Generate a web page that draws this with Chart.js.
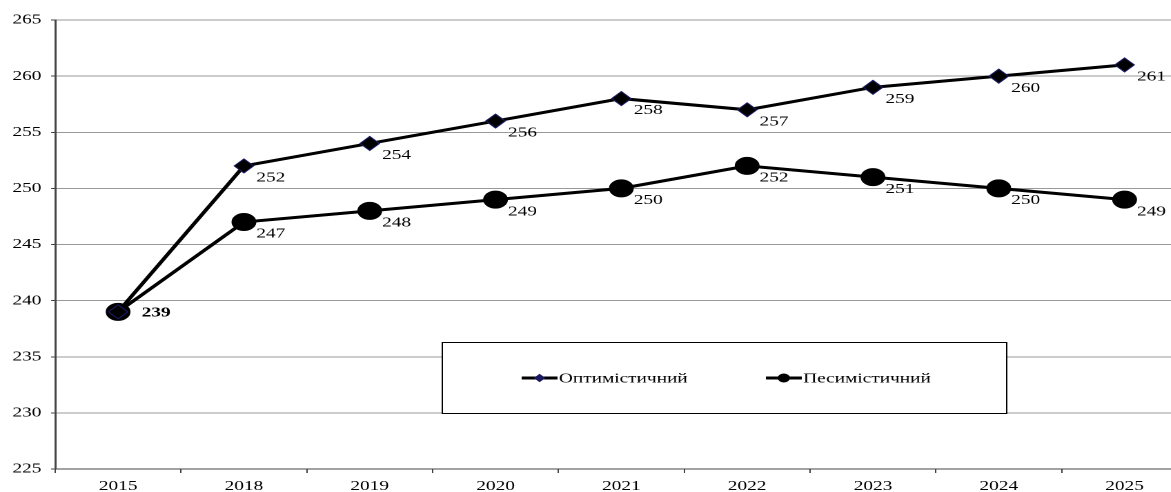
<!doctype html>
<html lang="uk">

<head>
    <meta charset="utf-8">
    <title>Прогноз</title>
    <script src="https://cdn.jsdelivr.net/npm/chart.js"></script>
    <style>
        body { margin: 0; overflow: hidden; background: #fff; }
        /* the original picture is stretched sideways */
        #myChart { transform: scaleX(1.38); transform-origin: 0 0; }
    </style>
</head>

<body>
    <canvas id="myChart" width="871" height="492"></canvas>
    <script>
        // data
        const years = ['2015', '2018', '2019', '2020', '2021', '2022', '2023', '2024', '2025'];
        const optimistic = [239, 252, 254, 256, 258, 257, 259, 260, 261];
        const pessimistic = [239, 247, 248, 249, 250, 252, 251, 250, 249];
        const seriesNames = ['Оптимістичний', 'Песимістичний'];

        const serif = '"Liberation Serif", "DejaVu Serif", serif';

        // value labels next to each point
        const valueLabels = {
            id: 'valueLabels',
            afterDatasetsDraw(chart) {
                const ctx = chart.ctx;
                ctx.save();
                ctx.fillStyle = '#000';
                ctx.textAlign = 'left';
                ctx.textBaseline = 'middle';
                chart.data.datasets.forEach(function (ds, i) {
                    chart.getDatasetMeta(i).data.forEach(function (pt, j) {
                        if (i == 1 && j == 0) return; // same point as optimistic
                        if (j == 0) {
                            ctx.font = 'bold 14px ' + serif;
                            ctx.fillText(ds.data[j], pt.x + 17, pt.y + 1);
                        } else {
                            ctx.font = '14px ' + serif;
                            ctx.fillText(ds.data[j], pt.x + 9, pt.y + 12);
                        }
                    });
                });
                ctx.restore();
            }
        };

        // boxed legend inside the plot
        const boxLegend = {
            id: 'boxLegend',
            afterDraw(chart) {
                const ctx = chart.ctx;
                const x0 = 320, y0 = 342, x1 = 729, y1 = 413;
                ctx.save();
                ctx.fillStyle = '#fff';
                ctx.fillRect(x0, y0, x1 - x0, y1 - y0);
                ctx.strokeStyle = '#000';
                ctx.lineWidth = 1;
                ctx.strokeRect(x0 + 0.5, y0 + 0.5, x1 - x0, y1 - y0);
                const cy = 378;
                const items = [[378, 'rectRot', 3.5], [555, 'circle', 4]];
                items.forEach(function (it, i) {
                    ctx.strokeStyle = '#000';
                    ctx.lineWidth = 3;
                    ctx.beginPath();
                    ctx.moveTo(it[0], cy);
                    ctx.lineTo(it[0] + 26, cy);
                    ctx.stroke();
                    ctx.fillStyle = i == 0 ? '#1a1a5e' : '#000';
                    ctx.strokeStyle = i == 0 ? '#1a1a5e' : '#000';
                    ctx.lineWidth = 1;
                    Chart.helpers.drawPoint(ctx, { pointStyle: it[1], radius: it[2], borderWidth: 1 }, it[0] + 13, cy);
                    ctx.fillStyle = '#000';
                    ctx.font = '14px ' + serif;
                    ctx.textBaseline = 'middle';
                    ctx.fillText(seriesNames[i], it[0] + 27, cy + 1);
                });
                ctx.restore();
            }
        };

        function displayGraph() {
            const grapharea = document.getElementById('myChart');
            const data = {
                labels: years,
                datasets: [{
                    label: seriesNames[0],
                    data: optimistic,
                    borderColor: '#000',
                    borderWidth: 3,
                    pointStyle: 'rectRot',
                    pointRadius: 7,
                    pointBackgroundColor: '#000',
                    pointBorderColor: '#1a1a5e',
                    pointBorderWidth: 1,
                    tension: 0
                }, {
                    label: seriesNames[1],
                    data: pessimistic,
                    borderColor: '#000',
                    borderWidth: 3,
                    pointStyle: 'circle',
                    pointRadius: 7.5,
                    pointBackgroundColor: '#000',
                    pointBorderColor: '#000',
                    tension: 0
                }]
            };
            const config = {
                type: 'line',
                data: data,
                options: {
                    responsive: false,
                    devicePixelRatio: 2,
                    animation: false,
                    layout: { padding: { top: 20, right: 3, left: 0, bottom: 0 } },
                    plugins: {
                        legend: { display: false },
                        tooltip: { enabled: false }
                    },
                    scales: {
                        x: {
                            offset: true,
                            afterFit: function (scale) { scale.height = 23; },
                            grid: {
                                offset: true,
                                drawOnChartArea: false,
                                color: '#444',
                                tickLength: 4
                            },
                            border: { color: '#444', width: 1 },
                            ticks: { color: '#000', font: { family: serif, size: 14 }, padding: 5, maxRotation: 0 }
                        },
                        y: {
                            min: 225,
                            max: 265,
                            afterFit: function (scale) { scale.width = 40; },
                            ticks: { stepSize: 5, color: '#000', font: { family: serif, size: 14 }, padding: 7 },
                            grid: { color: '#999', tickLength: 3, tickColor: '#444' },
                            border: { color: '#444', width: 1.5 }
                        }
                    }
                },
                plugins: [valueLabels, boxLegend]
            };
            const myChart = new Chart(grapharea, config);
        }
        displayGraph();
    </script>
</body>

</html>
